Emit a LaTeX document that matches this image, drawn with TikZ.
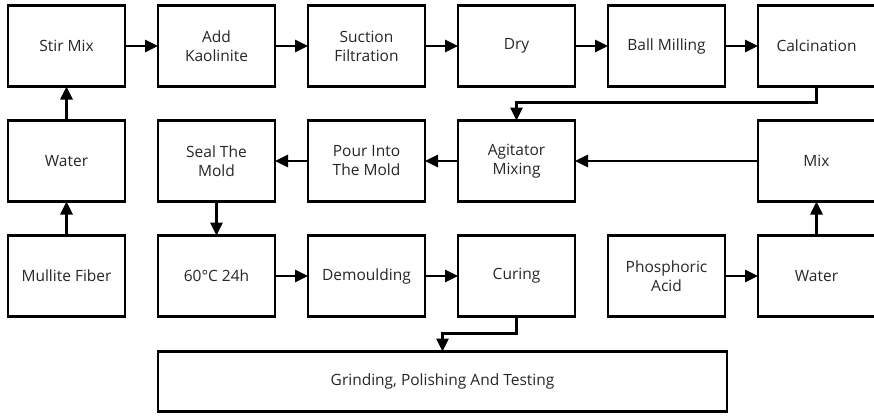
\documentclass[tikz,border=0pt]{standalone}
\usepackage{fontspec}
\setmainfont{Open Sans}
\usetikzlibrary{arrows.meta,positioning}

\begin{document}
\begin{tikzpicture}[x=1pt, y=-1pt, >={Triangle[length=13pt,width=12pt]}, node distance=34pt and 33pt]
  \tikzstyle{stage}=[draw, line width=2.6pt, outer sep=0pt, align=center, minimum width=117pt, minimum height=81pt, text=black!85, font=\fontsize{15.5}{19}\selectfont]
  \tikzstyle{flow}=[->, line width=2.6pt]
  \useasboundingbox (0,0) rectangle (874,415);
  % top row
  \node[stage] (stir) at (66.5,46) {Stir Mix};
  \node[stage, right=of stir] (kaolin) {Add\\Kaolinite};
  \node[stage, right=of kaolin] (filter) {Suction\\Filtration};
  \node[stage, right=of filter] (dry) {Dry};
  \node[stage, right=of dry] (mill) {Ball Milling};
  \node[stage, right=of mill] (calc) {Calcination};
  % middle row
  \node[stage, below=of stir] (water) {Water};
  \node[stage, below=of kaolin] (seal) {Seal The\\Mold};
  \node[stage, below=of filter] (pour) {Pour Into\\The Mold};
  \node[stage, below=of dry] (agit) {Agitator\\Mixing};
  \node[stage, below=of calc] (mix) {Mix};
  % bottom row
  \node[stage, below=of water] (fiber) {Mullite Fiber};
  \node[stage, below=of seal] (cure60) {60°C 24h};
  \node[stage, below=of pour] (demould) {Demoulding};
  \node[stage, below=of agit] (curing) {Curing};
  \node[stage, right=of curing] (acid) {Phosphoric\\Acid};
  \node[stage, right=of acid] (water2) {Water};
  \node[stage, minimum width=569pt, minimum height=60pt, below=35pt of cure60.south west, anchor=north west] (grind) {Grinding, Polishing And Testing};

  \draw[flow] (stir) -- (kaolin);
  \draw[flow] (kaolin) -- (filter);
  \draw[flow] (filter) -- (dry);
  \draw[flow] (dry) -- (mill);
  \draw[flow] (mill) -- (calc);
  \draw[flow] (calc.south) -- ++(0,16) -| (agit.north);
  \draw[flow] (mix) -- (agit);
  \draw[flow] (agit) -- (pour);
  \draw[flow] (pour) -- (seal);
  \draw[flow] (seal) -- (cure60);
  \draw[flow] (cure60) -- (demould);
  \draw[flow] (demould) -- (curing);
  \draw[flow] (curing.south) -- ++(0,17) -| (grind.north);
  \draw[flow] (fiber) -- (water);
  \draw[flow] (water) -- (stir);
  \draw[flow] (acid) -- (water2);
  \draw[flow] (water2) -- (mix);
\end{tikzpicture}
\end{document}
